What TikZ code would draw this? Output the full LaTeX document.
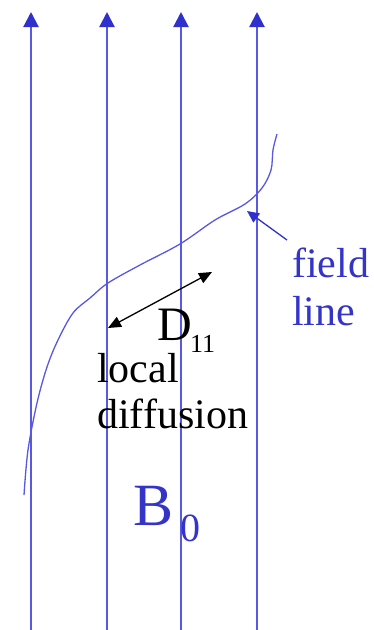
\documentclass[tikz,border=0pt]{standalone}
\usepackage{fontspec}
\setmainfont{Liberation Serif}
\usetikzlibrary{arrows.meta}
\definecolor{fieldblue}{RGB}{88,88,226}
\definecolor{tipblue}{RGB}{48,48,204}
\definecolor{textblue}{RGB}{52,52,200}
\tikzset{
  bline/.style={draw=fieldblue, line width=2.2pt, -{Triangle[width=15pt,length=15pt,color=tipblue]}},
  lbl/.style={inner sep=0pt, anchor=base west},
}
\begin{document}
\begin{tikzpicture}[x=1pt,y=-1pt]
\useasboundingbox (0,0) rectangle (374,630);
% vertical field lines
\foreach \xx/\nm in {31/a,107/b,181/c,257/d}{
  \coordinate (\nm bot) at (\xx,632);
  \coordinate (\nm top) at (\xx,12);
  \draw[bline] (\nm bot) -- (\nm top);
}
% wandering field line
\draw[fieldblue, line width=1.3pt] plot[smooth, tension=0.55] coordinates {
  (24,495) (28,450) (37,403) (47,367) (58,340)
  (73,313) (90,298) (108,283) (140,265)
  (180,244) (215,220) (245,204) (262,188) (271,170) (273,150) (277,134)};
% field line label
\node[lbl, text=textblue, font=\fontsize{42}{48}\selectfont] (fl) at (292,277) {field};
\node[lbl, text=textblue, font=\fontsize{42}{48}\selectfont] (fl2) at (292,325) {line};
\coordinate (flTail) at (287,240);
\coordinate (flTip) at (247,211);
\draw[tipblue, line width=1.3pt, -{Triangle[width=11pt,length=12pt]}] (flTail) -- (flTip);
% D parallel arrow
\coordinate (dA) at (108,328);
\coordinate (dB) at (212,272);
\draw[black, line width=1.3pt, {Triangle[width=11pt,length=13pt]}-{Triangle[width=11pt,length=13pt]}] (dA) -- (dB);
\node[lbl, font=\fontsize{48}{54}\selectfont] (D) at (157,340) {D};
\node[lbl, font=\fontsize{26}{30}\selectfont] (Dsub) at (190,352) {11};
\node[lbl, font=\fontsize{42}{48}\selectfont] (loc) at (97,382) {local};
\node[lbl, font=\fontsize{42}{48}\selectfont] (dif) at (97,428) {diffusion};
% B0
\node[lbl, text=textblue, font=\fontsize{60}{66}\selectfont] (B) at (133,525) {B};
\node[lbl, text=textblue, font=\fontsize{40}{46}\selectfont] (Bsub) at (180,541) {0};
\end{tikzpicture}
\end{document}
